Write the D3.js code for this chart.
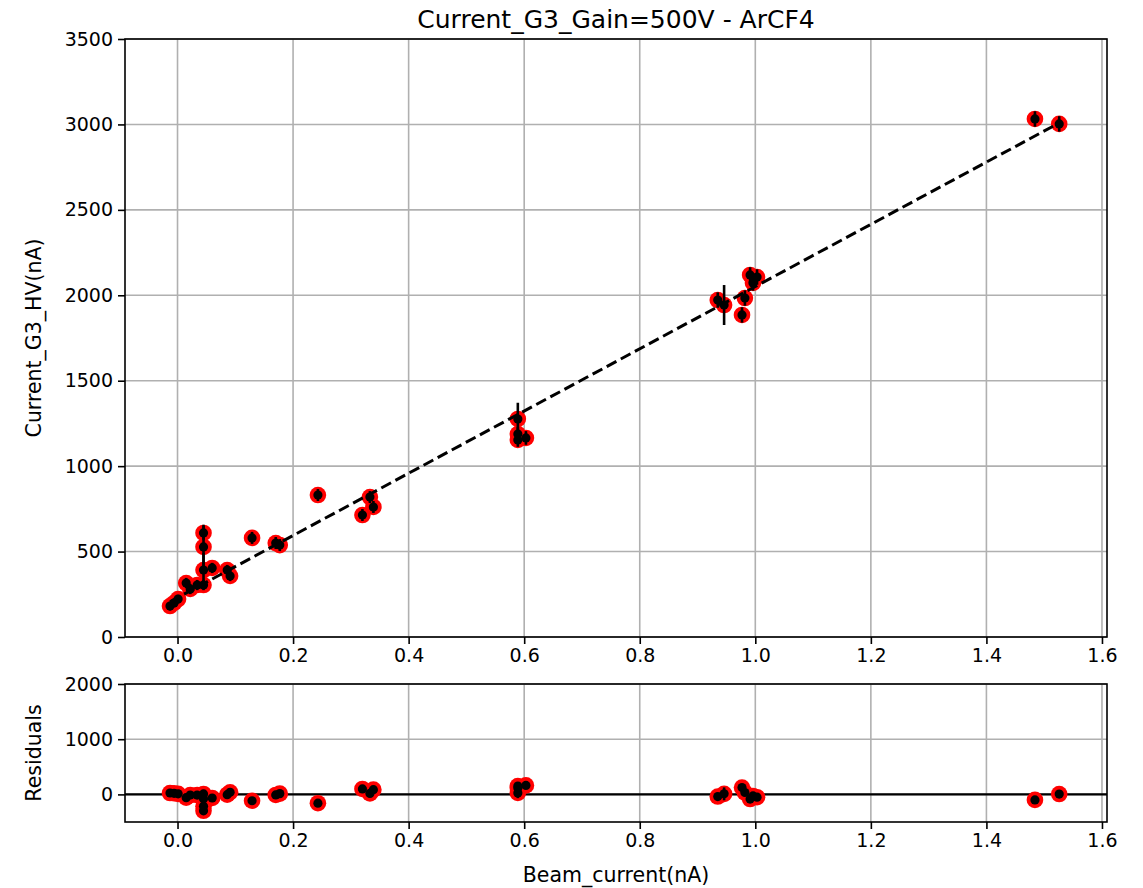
<!DOCTYPE html>
<html>
<head>
<meta charset="utf-8">
<script src="https://cdn.jsdelivr.net/npm/d3@7"></script>
<style>
  body { margin: 0; background: #fff; }
  text { font-family: "DejaVu Sans", sans-serif; fill: #000; }
</style>
</head>
<body>
<svg id="chart" width="1143" height="888"></svg>
<script>
// Beam current (nA) for each measurement
const beamCurrent = [-0.013, -0.006, 0.001, 0.015, 0.022, 0.034, 0.045, 0.045, 0.045, 0.045,
  0.060, 0.086, 0.091, 0.129, 0.170, 0.177, 0.243, 0.320, 0.333, 0.339,
  0.589, 0.589, 0.589, 0.603, 0.935, 0.946, 0.977, 0.982, 0.991, 1.003,
  0.996, 1.484, 1.526];
// Current measured on G3 HV (nA)
const g3Current = [181, 199, 222, 316, 281, 304, 304, 392, 527, 609,
  404, 392, 357, 580, 550, 538, 831, 714, 819, 761,
  1276, 1188, 1153, 1165, 1972, 1943, 1885, 1984, 2119, 2107,
  2072, 3032, 3003];
// Uncertainty on the G3 current (nA)
const g3Error = [25, 25, 25, 30, 30, 30, 30, 100, 130, 40,
  30, 30, 30, 35, 35, 35, 35, 35, 35, 35,
  95, 40, 40, 40, 45, 117, 45, 45, 45, 45,
  45, 45, 45];
// Residuals of the linear fit (nA)
const residuals = [25, 20, 10, -59, -11, -12, 8, -80, -215, -297,
  -65, -5, 39, -115, -10, 14, -159, 99, 17, 86,
  27, 115, 150, 163, -39, 10, 124, 34, -84, -51,
  -28, -100, 6];
// Linear fit parameters
const fitSlope = 1821;
const fitIntercept = 230;

const xTicks = [0.0, 0.2, 0.4, 0.6, 0.8, 1.0, 1.2, 1.4, 1.6];
const yTicks = [0, 500, 1000, 1500, 2000, 2500, 3000, 3500];
const residualTicks = [0, 1000, 2000];

const titleText = "Current_G3_Gain=500V - ArCF4";
const xLabel = "Beam_current(nA)";
const yLabel = "Current_G3_HV(nA)";
const residualLabel = "Residuals";

const svg = d3.select("#chart");
const left = 125, right = 1107;
const main = { top: 39, bottom: 637 };
const resid = { top: 684, bottom: 822 };

const x = d3.scaleLinear().domain([-0.0909, 1.6087]).range([left, right]);
const yMain = d3.scaleLinear().domain([0, 3500]).range([main.bottom, main.top]);
const yRes = d3.scaleLinear().domain([-500, 2000]).range([resid.bottom, resid.top]);

const gridColor = "#b0b0b0";
const fontSize = 19;
const labelSize = 20.5;

function drawPanel(yScale, box, yTickVals) {
  const g = svg.append("g");
  // grid
  g.selectAll(".gx").data(xTicks).join("line")
    .attr("x1", d => x(d)).attr("x2", d => x(d))
    .attr("y1", box.top).attr("y2", box.bottom)
    .attr("stroke", gridColor).attr("stroke-width", 1.6);
  g.selectAll(".gy").data(yTickVals).join("line")
    .attr("x1", left).attr("x2", right)
    .attr("y1", d => yScale(d)).attr("y2", d => yScale(d))
    .attr("stroke", gridColor).attr("stroke-width", 1.6);
  return g;
}

function drawAxes(yScale, box, yTickVals) {
  const xa = svg.append("g").attr("transform", `translate(0,${box.bottom})`)
    .call(d3.axisBottom(x).tickValues(xTicks).tickFormat(d3.format(".1f")).tickSize(7).tickPadding(5));
  const ya = svg.append("g").attr("transform", `translate(${left},0)`)
    .call(d3.axisLeft(yScale).tickValues(yTickVals).tickFormat(d3.format("d")).tickSize(7).tickPadding(5));
  [xa, ya].forEach(a => {
    a.select(".domain").remove();
    a.selectAll(".tick line").attr("stroke", "#000").attr("stroke-width", 1.6);
    a.selectAll(".tick text").style("font-size", fontSize + "px").attr("fill", "#000");
  });
  svg.append("rect").attr("x", left).attr("y", box.top)
    .attr("width", right - left).attr("height", box.bottom - box.top)
    .attr("fill", "none").attr("stroke", "#000").attr("stroke-width", 1.6);
}

function drawPoints(g, ys, yScale) {
  const pts = beamCurrent.map((bx, i) => ({ x: bx, y: ys[i], e: g3Error[i] }));
  g.selectAll(".halo").data(pts).join("circle")
    .attr("cx", d => x(d.x)).attr("cy", d => yScale(d.y)).attr("r", 8.3)
    .attr("fill", "#ff0000");
  return pts;
}

function drawErrorbars(g, pts, yScale) {
  g.selectAll(".err").data(pts).join("line")
    .attr("x1", d => x(d.x)).attr("x2", d => x(d.x))
    .attr("y1", d => yScale(d.y - d.e)).attr("y2", d => yScale(d.y + d.e))
    .attr("stroke", "#000").attr("stroke-width", 2.6);
  g.selectAll(".dot").data(pts).join("circle")
    .attr("cx", d => x(d.x)).attr("cy", d => yScale(d.y)).attr("r", 4.6)
    .attr("fill", "#000");
}

// ---- main panel ----
const gMain = drawPanel(yMain, main, yTicks);
const mainPts = drawPoints(gMain, g3Current, yMain);
const [xMin, xMax] = d3.extent(beamCurrent);
const fitLine = d3.line().x(d => x(d)).y(d => yMain(fitSlope * d + fitIntercept));
gMain.append("path").datum([xMin, xMax]).attr("d", fitLine)
  .attr("fill", "none").attr("stroke", "#000").attr("stroke-width", 3)
  .attr("stroke-dasharray", "11,5");
drawErrorbars(gMain, mainPts, yMain);
drawAxes(yMain, main, yTicks);

// ---- residual panel ----
const gRes = drawPanel(yRes, resid, residualTicks);
gRes.append("line").attr("x1", left).attr("x2", right)
  .attr("y1", yRes(0)).attr("y2", yRes(0))
  .attr("stroke", "#000").attr("stroke-width", 2.2);
const resPts = drawPoints(gRes, residuals, yRes);
drawErrorbars(gRes, resPts, yRes);
drawAxes(yRes, resid, residualTicks);

// ---- labels ----
svg.append("text").attr("x", (left + right) / 2).attr("y", 28)
  .attr("text-anchor", "middle").style("font-size", "25px").text(titleText);
svg.append("text").attr("x", (left + right) / 2).attr("y", 882)
  .attr("text-anchor", "middle").style("font-size", labelSize + "px").text(xLabel);
svg.append("text").attr("transform", `translate(41,${(main.top + main.bottom) / 2}) rotate(-90)`)
  .attr("text-anchor", "middle").style("font-size", labelSize + "px").text(yLabel);
svg.append("text").attr("transform", `translate(41,${(resid.top + resid.bottom) / 2}) rotate(-90)`)
  .attr("text-anchor", "middle").style("font-size", labelSize + "px").text(residualLabel);
</script>
</body>
</html>
